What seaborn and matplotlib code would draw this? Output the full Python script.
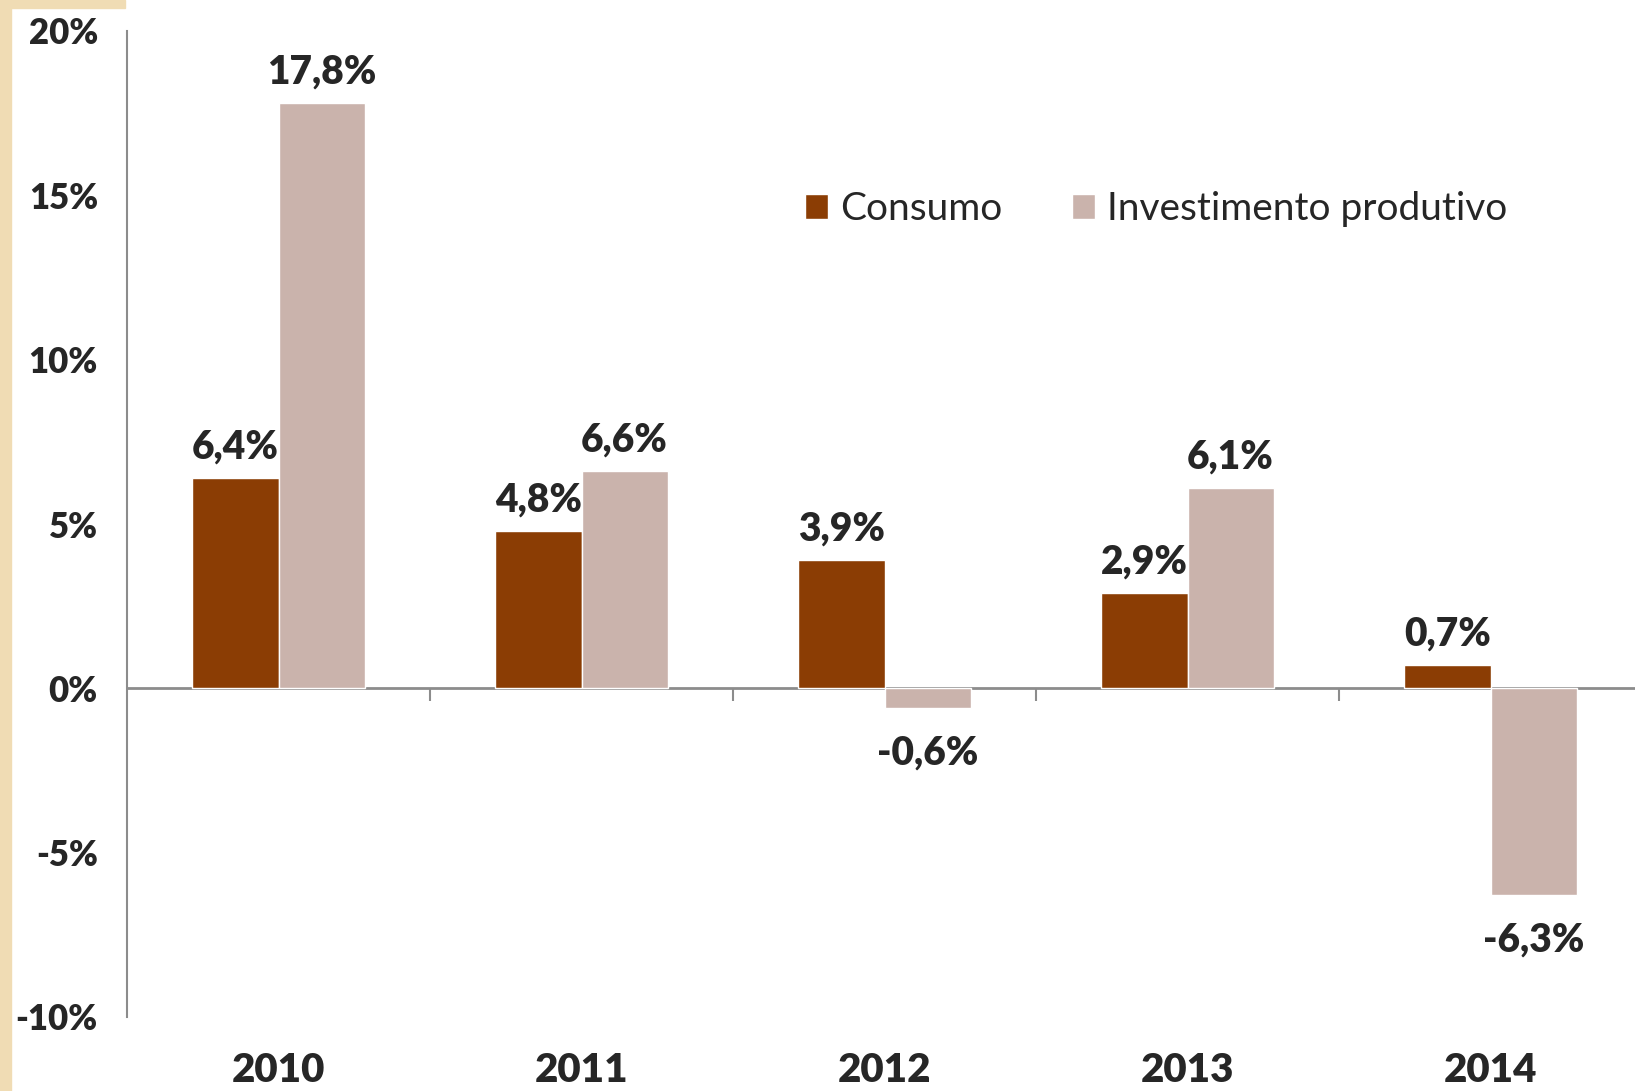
import pandas as pd
import seaborn as sns
import matplotlib.pyplot as plt
from matplotlib.patches import Rectangle

# Data
anos = ["2010", "2011", "2012", "2013", "2014"]
consumo = [6.4, 4.8, 3.9, 2.9, 0.7]
investimento = [17.8, 6.6, -0.6, 6.1, -6.3]
series = ["Consumo", "Investimento produtivo"]
cores = ["#8B3D04", "#CAB3AC"]
yticks = [-10, -5, 0, 5, 10, 15, 20]

df = pd.DataFrame({
    "ano": anos * 2,
    "valor": consumo + investimento,
    "serie": [series[0]] * len(anos) + [series[1]] * len(anos),
})

sns.set_style("white")
plt.rcParams["font.family"] = ["Lato", "DejaVu Sans"]
peso = "heavy"

fig = plt.figure(figsize=(16.35, 10.91), dpi=100)
ax = fig.add_axes([127 / 1635, 1 - 1017 / 1091, (1642 - 127) / 1635, (1017 - 31) / 1091])

# beige decoration on the left edge
fig.patches.append(Rectangle((0, 0), 11 / 1635, 1, transform=fig.transFigure,
                             color="#F0DCB4", zorder=0))
fig.patches.append(Rectangle((0, 1 - 8 / 1091), 125 / 1635, 8 / 1091,
                             transform=fig.transFigure, color="#F0DCB4", zorder=0))

sns.barplot(data=df, x="ano", y="valor", hue="serie", palette=cores,
            width=0.57, saturation=1, ax=ax, legend=True)

# data labels
for cont in ax.containers:
    for bar in cont:
        v = bar.get_height()
        txt = f"{v:.1f}%".replace(".", ",")
        x = bar.get_x() + bar.get_width() / 2
        if v >= 0:
            ax.annotate(txt, (x, v), xytext=(0, 9), textcoords="offset points",
                        ha="center", va="bottom", fontsize=28, fontweight=peso)
        else:
            ax.annotate(txt, (x, v), xytext=(0, -19), textcoords="offset points",
                        ha="center", va="top", fontsize=28, fontweight=peso)

ax.set_xlim(-0.5, 4.5)
ax.set_ylim(-10, 20)
ax.set_yticks(yticks)
ax.set_yticklabels([f"{t}%" for t in yticks], fontsize=25, fontweight=peso)
ax.tick_params(axis="y", length=7, width=1.5, color="#8C8C8C", pad=14)

# year labels at bottom, no ticks
ax.set_xticks(range(len(anos)))
ax.set_xticklabels(anos, fontsize=29, fontweight=peso)
ax.tick_params(axis="x", length=0, pad=25)
ax.set_xlabel("")
ax.set_ylabel("")

for s in ["top", "right", "bottom"]:
    ax.spines[s].set_visible(False)
ax.spines["left"].set_color("#8C8C8C")
ax.spines["left"].set_linewidth(1.5)

# zero line with category separator ticks
sec = ax.secondary_xaxis(1 / 3)
sec.set_xticks([0.5, 1.5, 2.5, 3.5])
sec.set_xticklabels([])
sec.tick_params(length=9, width=1.5, color="#8C8C8C", direction="out")
sec.spines["bottom"].set_color("#8C8C8C")
sec.spines["bottom"].set_linewidth(2)
sec.spines["top"].set_visible(False)

handles, labels = ax.get_legend_handles_labels()
ax.legend(handles, labels, loc="center", bbox_to_anchor=(0.707, 0.808),
          bbox_transform=fig.transFigure, ncol=2, frameon=False, fontsize=28,
          handlelength=0.6, handleheight=0.6, columnspacing=1.8, handletextpad=0.3)

fig.savefig("out.png", dpi=100)
